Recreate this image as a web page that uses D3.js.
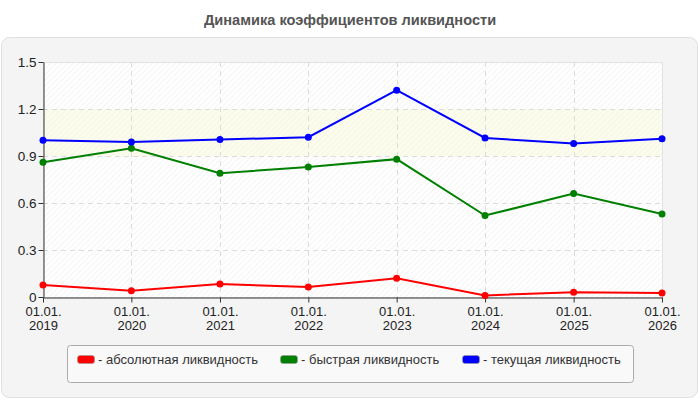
<!doctype html>
<html>
<head>
<meta charset="utf-8">
<style>
	body { margin: 0; background: #fff; font-family: "Liberation Sans", Arial, sans-serif; }
	text { font-family: "Liberation Sans", Arial, sans-serif; }
</style>
<script src="https://d3js.org/d3.v7.min.js"></script>
</head>
<body>
<div id="chart"></div>
<script>

var years = [2019, 2020, 2021, 2022, 2023, 2024, 2025, 2026];
var absolute = [0.077, 0.04, 0.083, 0.064, 0.12, 0.01, 0.03, 0.026];
var quick = [0.86, 0.95, 0.79, 0.83, 0.88, 0.52, 0.66, 0.53];
var current = [1.0, 0.99, 1.005, 1.02, 1.32, 1.015, 0.98, 1.01];
var yTicks = [0, 0.3, 0.6, 0.9, 1.2, 1.5];
var seriesNames = ["- абсолютная ликвидность", "- быстрая ликвидность", "- текущая ликвидность"];
var seriesColors = ["#ff0000", "#008000", "#0000ff"];
var title = "Динамика коэффициентов ликвидности";

var W = 700, H = 400;
var svg = d3.select("#chart").append("svg")
	.attr("width", W)
	.attr("height", H);

// hatch pattern for plot background
var defs = svg.append("defs");
var pat = defs.append("pattern")
	.attr("id", "hatch")
	.attr("patternUnits", "userSpaceOnUse")
	.attr("width", 4).attr("height", 4)
	.attr("patternTransform", "rotate(45)");
pat.append("line")
	.attr("x1", 0).attr("y1", 0).attr("x2", 0).attr("y2", 4)
	.attr("stroke", "#e9e9e9").attr("stroke-width", 1);

svg.append("text")
	.attr("x", W / 2).attr("y", 25)
	.attr("text-anchor", "middle")
	.style("font-size", "14.6px").style("font-weight", "bold")
	.style("fill", "#555")
	.text(title);

// outer panel
svg.append("rect")
	.attr("x", 1.5).attr("y", 37.5)
	.attr("width", 696).attr("height", 360)
	.attr("rx", 8)
	.attr("fill", "#f4f4f4").attr("stroke", "#e0e0e0");

var pLeft = 43, pRight = 662, pTop = 62, pBottom = 297;

var x = d3.scaleTime()
	.domain([new Date(years[0], 0, 1), new Date(years[years.length - 1], 0, 1)])
	.range([pLeft, pRight]);
var y = d3.scaleLinear().domain([0, 1.5]).range([pBottom, pTop]);

var g = svg.append("g");

g.append("rect")
	.attr("x", pLeft).attr("y", pTop)
	.attr("width", pRight - pLeft).attr("height", pBottom - pTop)
	.attr("fill", "#fff");
g.append("rect")
	.attr("x", pLeft).attr("y", pTop)
	.attr("width", pRight - pLeft).attr("height", pBottom - pTop)
	.attr("fill", "url(#hatch)");
// light band between 0.9 and 1.2
g.append("rect")
	.attr("x", pLeft).attr("y", y(1.2))
	.attr("width", pRight - pLeft).attr("height", y(0.9) - y(1.2))
	.attr("fill", "#f8f8d8").attr("fill-opacity", 0.45);
g.append("rect")
	.attr("x", pLeft + 0.5).attr("y", pTop + 0.5)
	.attr("width", pRight - pLeft).attr("height", pBottom - pTop)
	.attr("fill", "none").attr("stroke", "#e2e2e2");

// grid
g.selectAll("line.hg").data(yTicks.slice(1, -1)).enter().append("line")
	.attr("x1", pLeft).attr("x2", pRight)
	.attr("y1", function(d) { return Math.round(y(d)) + 0.5; })
	.attr("y2", function(d) { return Math.round(y(d)) + 0.5; })
	.attr("stroke", "#dcdcdc").attr("stroke-dasharray", "5,4");
g.selectAll("line.vg").data(years.slice(1, -1)).enter().append("line")
	.attr("y1", pTop).attr("y2", pBottom)
	.attr("x1", function(d) { return Math.round(x(new Date(d, 0, 1))) + 0.5; })
	.attr("x2", function(d) { return Math.round(x(new Date(d, 0, 1))) + 0.5; })
	.attr("stroke", "#dcdcdc").attr("stroke-dasharray", "5,4");

// axes
var yAxis = d3.axisLeft(y).tickValues(yTicks).tickSize(5).tickSizeOuter(0)
	.tickFormat(function(d) { return d === 0 ? "0" : d3.format(".1f")(d); });
var ya = svg.append("g").attr("transform", "translate(" + (pLeft + 0.5) + ",0)").call(yAxis);
ya.select(".domain").attr("stroke", "#333");
ya.selectAll(".tick line").attr("stroke", "#333");
ya.selectAll(".tick text").style("font-size", "13.5px").style("fill", "#222")
	.style("font-family", "'Liberation Sans', Arial, sans-serif").attr("x", -7);

var xAxis = d3.axisBottom(x).tickValues(years.map(function(d) { return new Date(d, 0, 1); }))
	.tickSize(5).tickSizeOuter(0).tickFormat("");
var xa = svg.append("g").attr("transform", "translate(0," + (pBottom + 0.5) + ")").call(xAxis);
xa.select(".domain").attr("stroke", "#333");
xa.selectAll(".tick line").attr("stroke", "#333");
xa.selectAll(".tick").each(function(d) {
	var t = d3.select(this).append("text")
		.attr("text-anchor", "middle")
		.style("font-size", "13px").style("fill", "#222")
		.style("font-family", "'Liberation Sans', Arial, sans-serif");
	t.append("tspan").attr("x", 0).attr("y", 18).text("01.01.");
	t.append("tspan").attr("x", 0).attr("y", 32).text(d.getFullYear());
});

// series
var allSeries = [absolute, quick, current];
var line = d3.line()
	.x(function(d, i) { return x(new Date(years[i], 0, 1)); })
	.y(function(d) { return y(d); });

allSeries.forEach(function(s, k) {
	svg.append("path")
		.datum(s)
		.attr("d", line)
		.attr("fill", "none")
		.attr("stroke", seriesColors[k])
		.attr("stroke-width", 2);
	svg.selectAll("circle.s" + k).data(s).enter().append("circle")
		.attr("class", "s" + k)
		.attr("cx", function(d, i) { return x(new Date(years[i], 0, 1)); })
		.attr("cy", function(d) { return y(d); })
		.attr("r", 3.5)
		.attr("fill", seriesColors[k]);
});

// legend
svg.append("rect")
	.attr("x", 67.5).attr("y", 345.5)
	.attr("width", 566).attr("height", 37)
	.attr("rx", 3)
	.attr("fill", "#f9f9f9").attr("stroke", "#aaa");

var legendX = [77, 280, 462];
seriesNames.forEach(function(name, k) {
	svg.append("rect")
		.attr("x", legendX[k] + 0.5).attr("y", 355.5)
		.attr("width", 17).attr("height", 8)
		.attr("rx", 2.5)
		.attr("fill", seriesColors[k]).attr("stroke", "#999").attr("stroke-width", 0.6);
	svg.append("text")
		.attr("x", legendX[k] + 21).attr("y", 364)
		.style("font-size", "13px").style("fill", "#333")
		.text(name);
});

</script>
</body>
</html>
